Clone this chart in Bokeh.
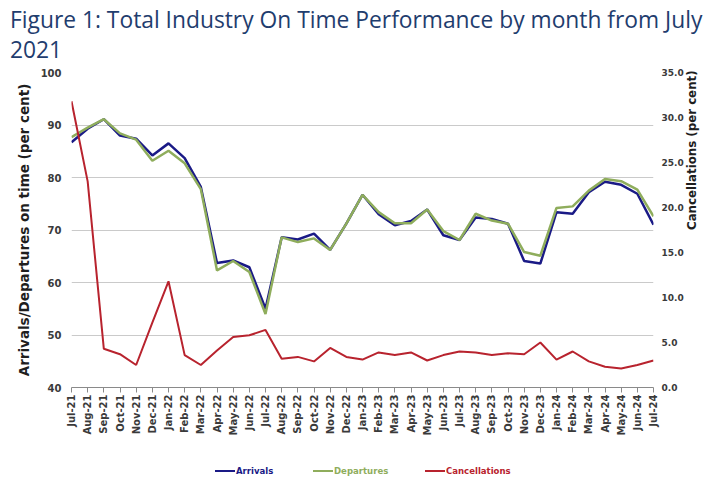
from bokeh.plotting import figure
from bokeh.layouts import column
from bokeh.models import (Range1d, LinearAxis, FixedTicker, NumeralTickFormatter, Div)
from bokeh.embed import file_html
from bokeh.resources import INLINE
import math

# Monthly on-time performance, July 2021 to July 2024
months = ["Jul-21", "Aug-21", "Sep-21", "Oct-21", "Nov-21", "Dec-21",
          "Jan-22", "Feb-22", "Mar-22", "Apr-22", "May-22", "Jun-22",
          "Jul-22", "Aug-22", "Sep-22", "Oct-22", "Nov-22", "Dec-22",
          "Jan-23", "Feb-23", "Mar-23", "Apr-23", "May-23", "Jun-23",
          "Jul-23", "Aug-23", "Sep-23", "Oct-23", "Nov-23", "Dec-23",
          "Jan-24", "Feb-24", "Mar-24", "Apr-24", "May-24", "Jun-24",
          "Jul-24"]
arrivals = [86.7, 89.3, 91.1, 88.0, 87.4, 84.2, 86.5, 83.7, 78.2, 63.7,
            64.2, 62.9, 55.0, 68.6, 68.2, 69.3, 66.2, 71.2, 76.7, 73.0,
            70.9, 71.7, 73.9, 69.0, 68.1, 72.4, 72.1, 71.2, 64.1, 63.6,
            73.4, 73.1, 77.2, 79.2, 78.6, 76.9, 71.0]
departures = [87.7, 89.5, 91.1, 88.4, 87.2, 83.2, 85.1, 82.7, 77.8, 62.3,
              64.1, 62.0, 54.0, 68.6, 67.7, 68.4, 66.2, 71.2, 76.7, 73.4,
              71.3, 71.3, 73.9, 69.8, 68.1, 73.1, 71.8, 71.2, 65.8, 65.1,
              74.2, 74.5, 77.5, 79.7, 79.3, 77.7, 72.6]
cancellations = [31.8, 22.9, 4.3, 3.7, 2.5, 7.2, 11.8, 3.6, 2.5, 4.1,
                 5.6, 5.8, 6.4, 3.2, 3.4, 2.9, 4.4, 3.4, 3.1, 3.9,
                 3.6, 3.9, 3.0, 3.6, 4.0, 3.9, 3.6, 3.8, 3.7, 5.0,
                 3.1, 4.0, 2.9, 2.3, 2.1, 2.5, 3.0]
left_ticks = [40, 50, 60, 70, 80, 90, 100]
right_ticks = [0, 5, 10, 15, 20, 25, 30, 35]
series_names = ["Arrivals", "Departures", "Cancellations"]
title_lines = ["Figure 1: Total Industry On Time Performance by month from July",
               "2021"]

x = list(range(len(months)))

BLUE = "#1a1a86"
GREEN = "#8fad5c"
RED = "#b8232e"
TITLE = "#1f3d6e"
TICK_FONT = "DejaVu Sans"
W = 719

# ---- heading: one block per line ----
line_style = (f"font-family:'Open Sans',sans-serif;font-size:22.8px;font-weight:normal;"
              f"color:{TITLE};line-height:30px;height:30px;margin:0;white-space:nowrap;")
head = Div(
    text=('<div style="padding:5px 0 0 10px;margin:0;">'
          + "".join(f'<div style="{line_style}">{t}</div>' for t in title_lines)
          + '</div>'),
    width=W, height=62, margin=0)

# ---- main chart ----
p = figure(width=W, height=393, output_backend="svg", toolbar_location=None,
           x_range=Range1d(0, len(months) - 1), y_range=Range1d(40, 100),
           min_border_left=71, min_border_right=66, min_border_top=10,
           min_border_bottom=68, outline_line_color=None, margin=0,
           background_fill_color="white", border_fill_color="white")
p.extra_y_ranges = {"canc": Range1d(0, 35)}

p.xgrid.grid_line_color = None
p.ygrid.grid_line_color = "#cacaca"
p.ygrid.grid_line_width = 1.2

yl = p.yaxis[0]
yl.ticker = FixedTicker(ticks=left_ticks)
yl.axis_label = "Arrivals/Departures on time (per cent)"
yl.major_label_standoff = 10
yl.axis_label_standoff = 6
yl.axis_label_text_font_size = "13.5px"
yl.major_label_text_font_size = "10px"

yr = LinearAxis(y_range_name="canc", ticker=FixedTicker(ticks=right_ticks),
                formatter=NumeralTickFormatter(format="0.0"),
                axis_label="Cancellations (per cent)")
yr.major_label_standoff = 8
yr.axis_label_standoff = 5
yr.axis_label_text_font_size = "11.8px"
yr.major_label_text_font_size = "9px"
if "axis_label_orientation" in yr.properties():
    yr.axis_label_orientation = math.pi / 2
p.add_layout(yr, "right")

for ax in (yl, yr):
    ax.axis_line_color = None
    ax.major_tick_line_color = None
    ax.minor_tick_line_color = None
    ax.major_tick_out = 0
    ax.major_tick_in = 0
    ax.minor_tick_out = 0

xa = p.xaxis[0]
xa.ticker = FixedTicker(ticks=x)
xa.major_label_overrides = {i: m for i, m in enumerate(months)}
xa.major_label_orientation = math.pi / 2
xa.axis_line_color = "#8a8a8a"
xa.major_tick_line_color = "#8a8a8a"
xa.major_tick_out = 5
xa.major_tick_in = 0
xa.minor_tick_line_color = None
xa.major_label_standoff = 2
xa.major_label_text_font_size = "10px"

for ax in (yl, yr, xa):
    ax.major_label_text_font = TICK_FONT
    ax.major_label_text_font_style = "bold"
    ax.major_label_text_color = "#3a3a3a"
    ax.axis_label_text_font = TICK_FONT
    ax.axis_label_text_font_style = "bold"
    ax.axis_label_text_color = "#1e1e1e"

p.line(x, arrivals, line_color=BLUE, line_width=2.5)
p.line(x, departures, line_color=GREEN, line_width=2.5)
p.line(x, cancellations, line_color=RED, line_width=2.0, y_range_name="canc")

# ---- key row: a short swatch and a label in each series colour ----
legend_font = "'DejaVu Sans Condensed','Liberation Sans Narrow','DejaVu Sans',sans-serif"
key_parts = []
for name, col, lw, x0 in zip(series_names, (BLUE, GREEN, RED),
                             (2.5, 2.5, 2.2), (215, 313, 425)):
    key_parts.append(
        f'<span style="position:absolute;left:{x0}px;top:{16 - lw / 2}px;'
        f'width:20px;height:{lw}px;background:{col};"></span>'
        f'<span style="position:absolute;left:{x0 + 21}px;top:10px;'
        f'font-family:{legend_font};font-weight:bold;font-size:9.5px;'
        f'line-height:12px;color:{col};white-space:nowrap;">{name}</span>')
key = Div(text=('<div style="position:relative;width:719px;height:40px;margin:0;">'
                + "".join(key_parts) + '</div>'),
          width=W, height=40, margin=0)

page = column(head, p, key, spacing=0, margin=0)
open("out.html", "w").write(file_html(page, INLINE))
